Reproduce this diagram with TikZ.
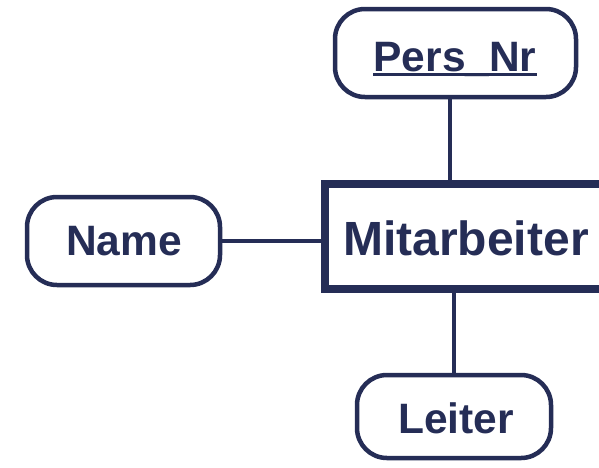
\documentclass[tikz,border=0pt]{standalone}
\usepackage{fontspec}
\setmainfont{Liberation Sans}
\definecolor{navy}{RGB}{37,45,86}
\begin{document}
\begin{tikzpicture}[x=1pt,y=-1pt,
  attrbox/.style={draw=navy, line width=4.5pt, rounded corners=30pt, fill=white, inner sep=0pt},
  entbox/.style={draw=navy, line width=8pt, inner sep=0pt, anchor=west},
  lbl/.style={text=navy, font=\fontsize{42.5}{42.5}\selectfont\bfseries, inner sep=0pt, anchor=base},
  entlbl/.style={text=navy, font=\fontsize{48}{48}\selectfont\bfseries, inner sep=0pt, anchor=base},
  conn/.style={draw=navy, line width=4pt}
]
\useasboundingbox (0,0) rectangle (599,467);
\clip (0,0) rectangle (599,467);
% entity
\node[entbox, minimum width=300pt, minimum height=105.5pt] (ent) at (321,236.25) {};
\node[entlbl] (entlabel) at (466,255) {Mitarbeiter};
% attributes
\node[attrbox, minimum width=241pt, minimum height=88pt] (pers) at (455.5,53) {};
\node[lbl] (perslabel) at (455,71) {Pers\_Nr};
\draw[navy, line width=2.5pt] ([yshift=-3.5pt]perslabel.base west) -- ([yshift=-3.5pt]perslabel.base east);
\node[attrbox, minimum width=193pt, minimum height=88pt] (name) at (123.5,241) {};
\node[lbl] (namelabel) at (124,255) {Name};
\node[attrbox, minimum width=194pt, minimum height=83pt] (leiter) at (454,416.5) {};
\node[lbl] (leiterlabel) at (456,433) {Leiter};
% connectors
\coordinate (pt) at (450,0);
\coordinate (pb) at (454,0);
\draw[conn] (pers.south -| pt) -- (ent.north -| pt);
\draw[conn] (ent.south -| pb) -- (leiter.north -| pb);
\draw[conn] (name.east) -- (name.east -| ent.west);
\end{tikzpicture}
\end{document}
